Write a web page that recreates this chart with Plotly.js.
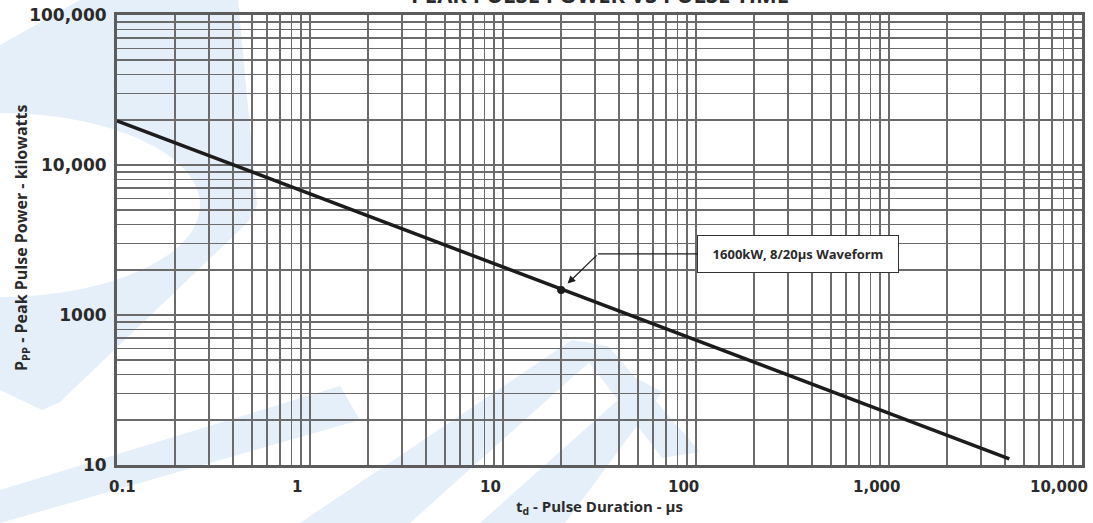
<!DOCTYPE html>
<html>
<head>
<meta charset="utf-8">
<script src="https://cdn.plot.ly/plotly-3.0.1.min.js"></script>
<style>html,body{margin:0;padding:0;background:#fff;}#chart{width:1093px;height:523px;}</style>
</head>
<body>
<div id="chart"></div>
<script>
// ---- data ----
const pulseDuration = [0.1, 4200];      // µs
const peakPower = [19700, 110];         // kW (axis positions)
const markerDuration = [20];
const markerPower = [1470];
const xDecades = [0.1, 1, 10, 100, 1000, 10000];
const xDecadeLabels = ["0.1", "1", "10", "100", "1,000", "10,000"];
const yDecades = [100, 1000, 10000, 100000];
const yDecadeLabels = ["10", "1000", "10,000", "100,000"];
const chartTitle = "PEAK PULSE POWER VS PULSE TIME";
const xTitle = "t<sub>d</sub> - Pulse Duration - µs";
const yTitle = "P<sub>PP</sub> - Peak Pulse Power - kilowatts";
const calloutText = "1600kW, 8/20µs Waveform";

// ---- grid ticks (every 1..9 multiple of each decade) ----
function gridTicks(decades, labels) {
  const vals = [], text = [];
  for (let i = 0; i < decades.length; i++) {
    if (i === decades.length - 1) { vals.push(decades[i]); text.push(labels[i]); break; }
    for (let m = 1; m <= 9; m++) {
      vals.push(Number((m * decades[i]).toPrecision(3)));
      text.push(m === 1 ? labels[i] : "");
    }
  }
  return {vals, text};
}
const xt = gridTicks(xDecades, xDecadeLabels);
const yt = gridTicks(yDecades, yDecadeLabels);

// ---- watermark helper (pixel -> paper) ----
const L = 117, R = 1082, T = 15, B = 465;
const px = v => (v - L) / (R - L);
const py = v => (B - v) / (B - T);
function poly(pts) {
  return "M " + pts.map(p => px(p[0]).toFixed(4) + "," + py(p[1]).toFixed(4)).join(" L ") + " Z";
}
const wm = "#e5eff9";
const shapes = [
  {type: "path", xref: "paper", yref: "paper", layer: "below", line: {width: 0}, fillcolor: wm,
   path: poly([[0,45],[80,0],[238,0],[252,150],[257,205],[248,222],[60,402],[42,410],[0,390]])},
  {type: "circle", xref: "paper", yref: "paper", layer: "below", line: {width: 0}, fillcolor: "#ffffff",
   x0: px(-200), x1: px(200), y0: py(297), y1: py(113)},
  {type: "path", xref: "paper", yref: "paper", layer: "below", line: {width: 0}, fillcolor: wm,
   path: poly([[0,490],[340,386],[360,420],[0,523]])},
  {type: "path", xref: "paper", yref: "paper", layer: "below", line: {width: 0}, fillcolor: wm,
   path: poly([[300,523],[410,523],[605,348],[572,340]])},
  {type: "path", xref: "paper", yref: "paper", layer: "below", line: {width: 0}, fillcolor: wm,
   path: poly([[572,340],[608,346],[700,452],[662,458]])},
  {type: "path", xref: "paper", yref: "paper", layer: "below", line: {width: 0}, fillcolor: wm,
   path: poly([[480,523],[565,523],[662,392],[640,380]])}
];

const textColor = "#2a2a2a";
const gridColor = "#6b6b6b";

const traces = [
  {x: pulseDuration, y: peakPower, type: "scatter", mode: "lines",
   line: {color: "#1c1c1c", width: 3.5}, hoverinfo: "skip"},
  {x: markerDuration, y: markerPower, type: "scatter", mode: "markers",
   marker: {color: "#1c1c1c", size: 8}, hoverinfo: "skip"}
];

const axisCommon = {
  type: "log", showgrid: true, gridcolor: gridColor, gridwidth: 1.5,
  showline: true, linecolor: "#5c5c5c", linewidth: 3, mirror: true,
  zeroline: false, ticks: "", tickmode: "array",
  tickfont: {family: "DejaVu Sans", size: 17, color: textColor, weight: 700}
};

// x decade labels as annotations so the end labels stay inside the picture
const xLabelAnns = xDecades.map((d, i) => {
  const last = i === xDecades.length - 1, first = i === 0;
  return {text: xDecadeLabels[i], x: Math.log10(d), xref: "x", y: 0, yref: "paper",
    xanchor: first ? "left" : (last ? "right" : "center"),
    xshift: first ? -10 : (last ? 8 : -13), yanchor: "top", yshift: -11,
    showarrow: false, font: {family: "DejaVu Sans", size: 15, color: textColor, weight: 700}};
});

const layout = {
  width: 1093, height: 523,
  margin: {l: L, r: 1093 - R, t: T, b: 523 - B, pad: 0},
  paper_bgcolor: "#ffffff", plot_bgcolor: "rgba(0,0,0,0)",
  showlegend: false,
  xaxis: Object.assign({}, axisCommon, {range: [-1, 4], tickvals: xt.vals, ticktext: xt.text,
    showticklabels: false}),
  yaxis: Object.assign({}, axisCommon, {range: [2, 5], tickvals: yt.vals, ticktext: yt.text,
    ticklabelstandoff: 4}),
  shapes: shapes,
  annotations: [
    {text: chartTitle, xref: "paper", yref: "paper", x: 0.5, y: py(11), xanchor: "center", yanchor: "bottom",
     showarrow: false, font: {family: "Open Sans", size: 22, color: textColor, weight: 700}},
    {text: xTitle, xref: "paper", yref: "paper", x: 0.5, y: py(507), xanchor: "center", yanchor: "middle",
     showarrow: false, font: {family: "Open Sans", size: 15, color: textColor, weight: 700}},
    {text: yTitle, xref: "paper", yref: "paper", x: px(21), y: py(238), xanchor: "center", yanchor: "middle",
     textangle: -90, showarrow: false, font: {family: "Open Sans", size: 16, color: textColor, weight: 700}},
    {text: "", x: Math.log10(markerDuration[0]), y: Math.log10(markerPower[0]), xref: "x", yref: "y",
     showarrow: true, ax: 37, ay: -36, standoff: 9, arrowhead: 2, arrowsize: 1.3, arrowwidth: 1.2,
     arrowcolor: "#1c1c1c"},
    {text: calloutText, x: Math.log10(markerDuration[0]), y: Math.log10(markerPower[0]), xref: "x", yref: "y",
     xshift: 37, yshift: 36, showarrow: true, ax: 200, ay: 0, arrowhead: 0, arrowwidth: 1.2,
     arrowcolor: "#1c1c1c", bgcolor: "#ffffff", bordercolor: "#333333", borderwidth: 1,
     width: 196, height: 32, borderpad: 2,
     font: {family: "Open Sans", size: 13, color: textColor, weight: 700}}
  ].concat(xLabelAnns)
};

Plotly.newPlot("chart", traces, layout, {displayModeBar: false, staticPlot: true});
</script>
</body>
</html>
